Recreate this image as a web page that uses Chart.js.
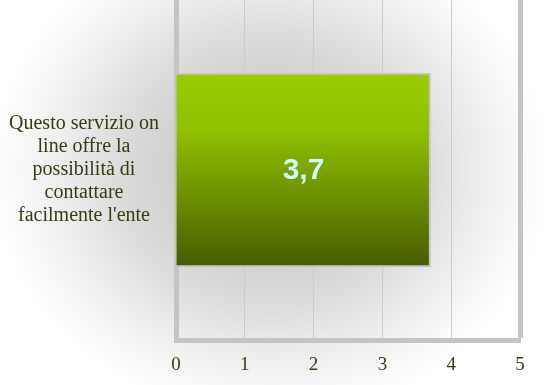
<!DOCTYPE html>
<html>
<head>
<meta charset="utf-8">
<script src="https://cdn.jsdelivr.net/npm/chart.js@4.4.1/dist/chart.umd.min.js"></script>
<style>
  body { margin: 0; background: #fff; }
  #wrap { width: 551px; height: 385px; }
</style>
</head>
<body>
<div id="wrap"><canvas id="myChart"></canvas></div>
<script>
// one question, average score on a 0-5 scale
const categories = [["Questo servizio on", "line offre la", "possibilità di", "contattare", "facilmente l'ente"]];
const scores = [3.7];
const scaleMin = 0;
const scaleMax = 5;

const barHeight = 194;
const serif = "'Liberation Serif', 'Times New Roman', serif";
const textColor = '#3a3a12';

// soft grey halo centred behind the bar, fading to white at the edges
const backdrop = {
    id: 'backdrop',
    beforeDraw(chart) {
        const ctx = chart.ctx;
        let bar = chart.getDatasetMeta(0).data[0];
        let cx = bar ? (bar.base + bar.x) / 2 - 33 : 270;
        let cy = bar ? bar.y : 168;
        const k = 0.885;
        ctx.save();
        ctx.fillStyle = '#fff';
        ctx.fillRect(0, 0, chart.width, chart.height);
        ctx.translate(cx, cy);
        ctx.scale(1, k);
        let g = ctx.createRadialGradient(0, 0, 0, 0, 0, 280);
        g.addColorStop(0, '#c8c8c8');
        g.addColorStop(0.35, '#d0d0d0');
        g.addColorStop(0.55, '#dcdcdc');
        g.addColorStop(0.72, '#ebebeb');
        g.addColorStop(0.88, '#f7f7f7');
        g.addColorStop(1, '#ffffff');
        ctx.fillStyle = g;
        ctx.fillRect(-cx, -cy / k, chart.width, chart.height / k);
        ctx.restore();
    }
};

// value written in the middle of the bar, with a decimal comma
const barValue = {
    id: 'barValue',
    afterDatasetsDraw(chart) {
        const ctx = chart.ctx;
        const meta = chart.getDatasetMeta(0);
        ctx.save();
        ctx.font = "bold 30px 'Liberation Sans', Arial, sans-serif";
        ctx.fillStyle = '#ccffff';
        ctx.textAlign = 'center';
        ctx.textBaseline = 'middle';
        meta.data.forEach(function (bar, i) {
            let txt = String(scores[i]).replace('.', ',');
            ctx.fillText(txt, (bar.base + bar.x) / 2, bar.y + 1);
        });
        ctx.restore();
    }
};

function barFill(c) {
    const chart = c.chart;
    if (!chart.chartArea) return '#88b000';
    const yc = chart.scales.y.getPixelForValue(c.dataIndex);
    let g = chart.ctx.createLinearGradient(0, yc - barHeight / 2, 0, yc + barHeight / 2);
    g.addColorStop(0, '#9acd00');
    g.addColorStop(0.3, '#90c000');
    g.addColorStop(1, '#475c00');
    return g;
}

var ctx = document.getElementById('myChart');
var myChart = new Chart(ctx, {
    type: 'bar',
    data: {
        labels: categories,
        datasets: [{
            data: scores,
            backgroundColor: barFill,
            borderColor: '#c6c6c6',
            borderWidth: 2,
            borderSkipped: 'start',
            barThickness: barHeight
        }]
    },
    options: {
        indexAxis: 'y',
        responsive: true,
        maintainAspectRatio: false,
        animation: false,
        layout: { padding: { top: -4, right: 31, left: 0, bottom: 0 } },
        plugins: {
            legend: { display: false },
            tooltip: { enabled: false }
        },
        scales: {
            x: {
                min: scaleMin,
                max: scaleMax,
                ticks: {
                    stepSize: 1,
                    padding: 14,
                    color: textColor,
                    font: { family: serif, size: 19 }
                },
                grid: {
                    drawTicks: false,
                    color: (c) => c.tick && c.tick.value === scaleMax ? '#c4c4c4' : '#cbcbcb',
                    lineWidth: (c) => c.tick && c.tick.value === scaleMax ? 5 : 1
                },
                border: { color: '#c4c4c4', width: 5 },
                afterFit(scale) {
                    scale.height = 45;
                    scale.paddingLeft = 0;
                    scale.paddingRight = 0;
                }
            },
            y: {
                ticks: {
                    crossAlign: 'center',
                    padding: 17,
                    color: textColor,
                    font: { family: serif, size: 20, lineHeight: 1.15 }
                },
                grid: { display: false, drawTicks: false },
                border: { color: '#c4c4c4', width: 5 },
                afterFit(scale) {
                    scale.width = 176;
                    scale.paddingTop = 0;
                    scale.paddingBottom = 0;
                }
            }
        }
    },
    plugins: [backdrop, barValue]
});
</script>
</body>
</html>
